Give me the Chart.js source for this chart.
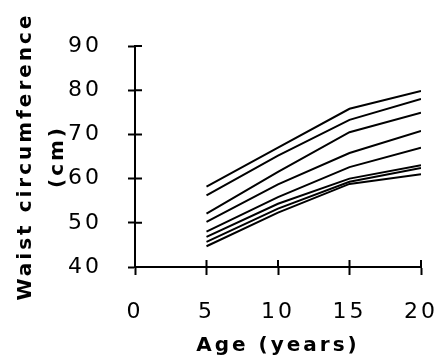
<!DOCTYPE html>
<html>
<head>
<meta charset="utf-8">
<script src="https://cdn.jsdelivr.net/npm/chart.js@4"></script>
<style>
  html, body { margin: 0; padding: 0; background: #fff; }
  #wrap { width: 435px; height: 362px; }
</style>
</head>
<body>
<div id="wrap"><canvas id="waist"></canvas></div>
<script>
// ages (x) and the eight curves, top to bottom
const ages = [5, 10, 15, 20];
const curve1 = [58.2, 67.0, 75.8, 79.8];
const curve2 = [56.2, 65.2, 73.3, 78.0];
const curve3 = [52.1, 61.5, 70.5, 74.9];
const curve4 = [50.2, 58.7, 65.8, 70.8];
const curve5 = [48.0, 55.8, 62.6, 67.0];
const curve6 = [46.8, 54.3, 60.0, 63.0];
const curve7 = [45.7, 53.2, 59.3, 62.4];
const curve8 = [44.7, 52.3, 58.8, 61.0];
const curves = [curve1, curve2, curve3, curve4, curve5, curve6, curve7, curve8];

const xTitle = 'Age (years)';
const yTitle = ['Waist circumference', '(cm)'];

// letter spacing for all text, old mac look
const spacing = {
  id: 'spacing',
  beforeDraw(chart) {
    chart.ctx.letterSpacing = '3px';
    chart.ctx.fillStyle = '#fff';
    chart.ctx.fillRect(0, 0, chart.width, chart.height);
  }
};

// ticks that cross the axis (inner half)
const innerTicks = {
  id: 'innerTicks',
  afterDraw(chart) {
    const ctx = chart.ctx;
    const x = chart.scales.x, y = chart.scales.y;
    const area = chart.chartArea;
    ctx.save();
    ctx.strokeStyle = '#000';
    ctx.lineWidth = 2;
    ctx.beginPath();
    x.ticks.forEach(t => {
      const px = x.getPixelForValue(t.value);
      ctx.moveTo(px, area.bottom);
      ctx.lineTo(px, area.bottom - 7);
    });
    y.ticks.forEach(t => {
      const py = y.getPixelForValue(t.value);
      ctx.moveTo(area.left, py);
      ctx.lineTo(area.left + 7, py);
    });
    ctx.stroke();
    ctx.restore();
  }
};

new Chart(document.getElementById('waist'), {
  type: 'line',
  data: {
    datasets: curves.map(c => ({
      data: ages.map((a, i) => ({ x: a, y: c[i] })),
      borderColor: '#000',
      borderWidth: 2,
      pointRadius: 0,
      tension: 0
    }))
  },
  options: {
    responsive: true,
    maintainAspectRatio: false,
    animation: false,
    layout: { padding: { top: 46, right: 0, left: 0, bottom: 0 } },
    plugins: { legend: { display: false }, tooltip: { enabled: false } },
    scales: {
      x: {
        type: 'linear',
        min: 0, max: 20,
        afterFit: s => { s.height = 95; s.paddingRight = 14; s.paddingLeft = 0; },
        grid: { drawOnChartArea: false, tickLength: 8, tickColor: '#000', tickWidth: 2 },
        border: { color: '#000', width: 2 },
        ticks: { stepSize: 5, color: '#000', padding: 24, maxRotation: 0,
                 font: { family: 'DejaVu Sans', size: 22 } },
        title: { display: true, text: xTitle, color: '#000',
                 padding: { top: 0, bottom: 4 },
                 font: { family: 'DejaVu Sans', size: 20, weight: 'bold' } }
      },
      y: {
        min: 40, max: 90,
        afterFit: s => { s.width = 135; },
        grid: { drawOnChartArea: false, tickLength: 7, tickColor: '#000', tickWidth: 2 },
        border: { color: '#000', width: 2 },
        ticks: { stepSize: 10, color: '#000', padding: 26,
                 font: { family: 'DejaVu Sans', size: 22 } },
        title: { display: true, text: yTitle, color: '#000',
                 padding: { top: 10, bottom: 0 },
                 font: { family: 'DejaVu Sans', size: 20, weight: 'bold', lineHeight: 1.6 } }
      }
    }
  },
  plugins: [spacing, innerTicks]
});
</script>
</body>
</html>
